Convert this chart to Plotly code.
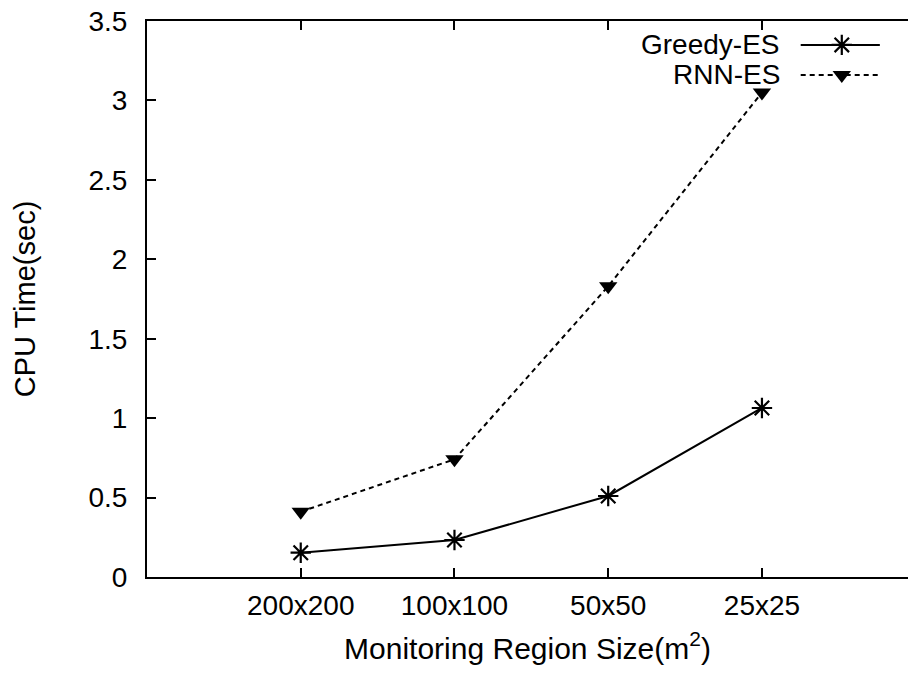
import plotly.graph_objects as go

# Monitoring region sizes (categories along the x axis)
regions = ["200x200", "100x100", "50x50", "25x25"]
region_pos = [0, 1, 2, 3]

# CPU time in seconds for each method
greedy_es = [0.153, 0.233, 0.51, 1.064]
rnn_es = [0.411, 0.741, 1.83, 3.05]

y_ticks = [0, 0.5, 1, 1.5, 2, 2.5, 3, 3.5]

FONT = "Liberation Sans, Arial, Helvetica, sans-serif"

STAR = dict(symbol="asterisk-open", size=17, color="black", line=dict(color="black", width=2.2))
TRI = dict(symbol="triangle-down", size=16, color="black")

fig = go.Figure()

fig.add_trace(go.Scatter(
    x=region_pos, y=greedy_es, mode="lines+markers", name="Greedy-ES",
    line=dict(color="black", width=2, dash="solid"),
    marker=STAR, showlegend=False, cliponaxis=False,
))
fig.add_trace(go.Scatter(
    x=region_pos, y=rnn_es, mode="lines+markers", name="RNN-ES",
    line=dict(color="black", width=2, dash="5px,4px"),
    marker=TRI, showlegend=False, cliponaxis=False,
))

# Key drawn in the upper right: label text to the left of a line sample
key_x = [0.859, 0.913, 0.963]
key_y = [0.957, 0.903]
fig.add_trace(go.Scatter(
    x=key_x, y=[key_y[0]] * 3, xaxis="x2", yaxis="y2", mode="lines",
    line=dict(color="black", width=2), showlegend=False, hoverinfo="skip",
))
fig.add_trace(go.Scatter(
    x=[key_x[1]], y=[key_y[0]], xaxis="x2", yaxis="y2", mode="markers",
    marker=STAR, showlegend=False, hoverinfo="skip",
))
fig.add_trace(go.Scatter(
    x=key_x, y=[key_y[1]] * 3, xaxis="x2", yaxis="y2", mode="lines",
    line=dict(color="black", width=2, dash="5px,4px"), showlegend=False, hoverinfo="skip",
))
fig.add_trace(go.Scatter(
    x=[key_x[1]], y=[key_y[1]], xaxis="x2", yaxis="y2", mode="markers",
    marker=TRI, showlegend=False, hoverinfo="skip",
))

for label, yk in zip(["Greedy-ES", "RNN-ES"], key_y):
    fig.add_annotation(
        text=label, x=0.834, y=yk, xref="paper", yref="paper",
        xanchor="right", yanchor="middle", showarrow=False,
        font=dict(family=FONT, size=28, color="black"),
    )

fig.update_layout(
    width=908, height=677,
    margin=dict(l=147, r=0, t=21, b=100),
    paper_bgcolor="white", plot_bgcolor="white",
    font=dict(family=FONT, size=28, color="black"),
    xaxis=dict(
        range=[-1, 3.95], tickmode="array", tickvals=region_pos, ticktext=regions,
        showline=True, linecolor="black", linewidth=2, mirror="ticks",
        ticks="inside", ticklen=9, tickwidth=1.5, tickcolor="black",
        showgrid=False, zeroline=False, ticklabelstandoff=2,
        tickfont=dict(family=FONT, size=28, color="black"),
        title=dict(text="Monitoring Region Size(m<sup>2</sup>)",
                   font=dict(family=FONT, size=30, color="black"), standoff=18),
    ),
    yaxis=dict(
        range=[0, 3.5], tickmode="array", tickvals=y_ticks,
        showline=True, linecolor="black", linewidth=2,
        ticks="inside", ticklen=9, tickwidth=1.5, tickcolor="black",
        showgrid=False, zeroline=False, ticklabelstandoff=12,
        tickfont=dict(family=FONT, size=28, color="black"),
        title=dict(text="CPU Time(sec)",
                   font=dict(family=FONT, size=29, color="black"), standoff=44),
    ),
    xaxis2=dict(range=[0, 1], overlaying="x", visible=False, fixedrange=True),
    yaxis2=dict(range=[0, 1], overlaying="y", visible=False, fixedrange=True),
)

fig.write_html("out.html")
